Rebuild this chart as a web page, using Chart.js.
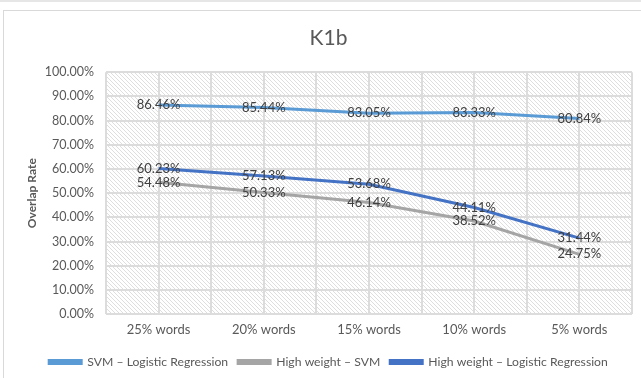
<!DOCTYPE html>
<html>
<head>
<meta charset="utf-8">
<script src="https://cdn.jsdelivr.net/npm/chart.js@4.4.1/dist/chart.umd.min.js"></script>
<style>
  html, body { margin: 0; padding: 0; background: #ffffff; overflow: hidden; }
  body { width: 641px; height: 378px; position: relative; border-top: 2px solid #e6e6e6; box-sizing: border-box; }
  #frame { position: absolute; left: 3px; top: 8px; width: 700px; height: 420px; border: 1px solid #d9d9d9; box-sizing: border-box; }
  #wrap { position: absolute; left: 0; top: 0; width: 641px; height: 378px; }
</style>
</head>
<body>
<div id="frame"></div>
<div id="wrap"><canvas id="chart" width="641" height="378"></canvas></div>
<script>
// Categories (share of words kept) and overlap rates in percent
const categories = ['25% words', '20% words', '15% words', '10% words', '5% words'];
const svmVsLogistic = [86.46, 85.44, 83.05, 83.33, 80.84];
const highWeightVsSvm = [54.48, 50.33, 46.14, 38.52, 24.75];
const highWeightVsLogistic = [60.23, 57.13, 53.68, 44.11, 31.44];
const seriesNames = ['SVM \u2013 Logistic Regression', 'High weight \u2013 SVM', 'High weight \u2013 Logistic Regression'];
const yTicks = { min: 0, max: 100, step: 10 };

const FONT = 'Lato, "Open Sans", sans-serif';
const TEXT = '#595959';

// Diagonal hatch tile for the plot background
function makeHatch() {
  const c = document.createElement('canvas');
  c.width = 4; c.height = 4;
  const g = c.getContext('2d');
  g.fillStyle = '#ffffff';
  g.fillRect(0, 0, 4, 4);
  g.strokeStyle = '#dedede';
  g.lineWidth = 1;
  g.beginPath();
  g.moveTo(-1, -1); g.lineTo(5, 5);
  g.moveTo(-1, 3); g.lineTo(1, 5);
  g.moveTo(3, -1); g.lineTo(5, 1);
  g.stroke();
  return c;
}

const hatchPlugin = {
  id: 'hatch',
  beforeDraw(chart) {
    const { ctx, chartArea: a } = chart;
    ctx.save();
    ctx.fillStyle = ctx.createPattern(makeHatch(), 'repeat');
    ctx.fillRect(a.left, a.top, a.right - a.left, a.bottom - a.top);
    ctx.restore();
  }
};

// Value labels centred on each point
const valueLabels = {
  id: 'valueLabels',
  afterDatasetsDraw(chart) {
    const ctx = chart.ctx;
    ctx.save();
    ctx.font = '13px ' + FONT;
    ctx.fillStyle = '#404040';
    ctx.textAlign = 'center';
    ctx.textBaseline = 'middle';
    chart.data.datasets.forEach((ds, i) => {
      chart.getDatasetMeta(i).data.forEach((pt, j) => {
        ctx.fillText(ds.data[j].toFixed(2) + '%', pt.x, pt.y);
      });
    });
    ctx.restore();
  }
};

function series(label, data, color) {
  return {
    label, data,
    borderColor: color,
    backgroundColor: color,
    borderWidth: 3,
    pointRadius: 0,
    pointHoverRadius: 0,
    tension: 0,
    xAxisID: 'x'
  };
}

new Chart(document.getElementById('chart'), {
  type: 'line',
  data: {
    labels: categories,
    datasets: [
      series(seriesNames[0], svmVsLogistic, '#5B9BD5'),
      series(seriesNames[1], highWeightVsSvm, '#A5A5A5'),
      series(seriesNames[2], highWeightVsLogistic, '#4472C4')
    ]
  },
  options: {
    responsive: false,
    animation: false,
    layout: { padding: { left: 25, right: 9, top: 16, bottom: 2 } },
    plugins: {
      title: {
        display: true,
        text: 'K1b',
        color: TEXT,
        font: { family: FONT, size: 21, weight: 'normal' },
        padding: { top: 8, bottom: 21 }
      },
      legend: {
        position: 'bottom',
        labels: {
          color: TEXT,
          font: { family: FONT, size: 12.2 },
          boxWidth: 32,
          boxHeight: 3,
          padding: 10
        }
      },
      tooltip: { enabled: false }
    },
    scales: {
      x: {
        type: 'category',
        offset: true,
        grid: { offset: false, color: '#dcdcdc', lineWidth: 2, drawTicks: false },
        border: { display: false },
        ticks: { color: TEXT, font: { family: FONT, size: 13 }, padding: 8 }
      },
      x2: {
        type: 'category',
        labels: categories,
        position: 'bottom',
        offset: true,
        grid: { offset: true, color: '#dcdcdc', lineWidth: 2, drawTicks: false },
        border: { display: false },
        ticks: { display: false }
      },
      y: {
        min: yTicks.min,
        max: yTicks.max,
        afterFit(scale) { scale.width = 81; },
        ticks: {
          stepSize: yTicks.step,
          color: TEXT,
          font: { family: FONT, size: 12.5 },
          padding: 12,
          callback: v => v.toFixed(2) + '%'
        },
        grid: { color: '#dcdcdc', lineWidth: 2, drawTicks: false },
        border: { display: false },
        title: {
          display: true,
          text: 'Overlap Rate',
          color: TEXT,
          font: { family: FONT, size: 12, weight: 'bold' },
          padding: { top: 0, bottom: 0 }
        }
      }
    }
  },
  plugins: [hatchPlugin, valueLabels]
});
</script>
</body>
</html>
